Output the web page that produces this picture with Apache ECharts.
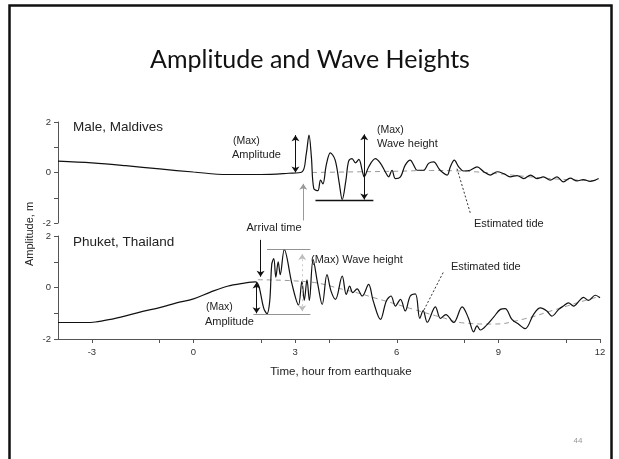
<!DOCTYPE html>
<html>
<head>
<meta charset="utf-8">
<title>Amplitude and Wave Heights</title>
<script src="https://cdn.jsdelivr.net/npm/echarts@6/dist/echarts.min.js"></script>
<style>
    html, body { margin: 0; padding: 0; background: #fff; }
    #main { width: 619px; height: 459px; }
</style>
</head>
<body>
<div id="main"></div>
<script>
    // x axis ticks (hours from earthquake)
    var hourLabels = [-3, 0, 3, 6, 9, 12];
    var hourTicks = [-3, -1, 0, 2, 3, 4, 6, 8, 9, 11, 12];

    // Male, Maldives : [hour, amplitude m]
    var maleWave = [
        [-4, 0.45], [-3, 0.38], [-2, 0.27], [-1, 0.14], [0, 0.02], [1, -0.08], [2, -0.08],
        [2.8, -0.03], [3.2, 0.02], [3.33, 0.75], [3.41, 1.48], [3.48, 0.62], [3.55, -0.63],
        [3.67, -0.72], [3.75, -0.3], [3.82, -0.45], [3.92, 0.3], [4.04, 0.78], [4.18, 0.5],
        [4.3, -0.4], [4.39, -1.07], [4.5, -0.3], [4.58, 0.45], [4.68, 0.55], [4.78, 0.38],
        [4.88, 0.52], [4.98, 0.08], [5.04, -0.17], [5.17, 0.22], [5.37, 0.55], [5.52, 0.36],
        [5.66, 0.03], [5.76, -0.17], [5.86, 0.09], [5.96, -0.24], [6.11, -0.17], [6.25, 0.29],
        [6.4, 0.49], [6.5, 0.29], [6.6, 0.09], [6.79, 0.09], [6.94, 0.36], [7.09, 0.42],
        [7.24, 0.16], [7.33, 0.03], [7.49, -0.1], [7.58, 0.22], [7.7, 0.49], [7.83, 0.22],
        [7.97, 0.06], [8.17, 0.09], [8.37, 0.22], [8.57, 0.03], [8.76, -0.1], [8.96, 0.03],
        [9.15, -0.04], [9.35, -0.17], [9.55, -0.12], [9.75, -0.24], [9.95, -0.1], [10.14, -0.24],
        [10.33, -0.17], [10.53, -0.3], [10.73, -0.17], [10.92, -0.37], [11.12, -0.22],
        [11.32, -0.33], [11.51, -0.28], [11.71, -0.35], [11.96, -0.24]
    ];
    var maleTide = [
        [3.5, 0.0], [4.5, 0.02], [6, 0.05], [7, 0.08], [8, 0.05], [9, -0.05], [10, -0.18],
        [11, -0.28], [12, -0.32]
    ];

    // Phuket, Thailand : [hour, amplitude m]
    var phuketWave = [
        [-4, -1.36], [-3.2, -1.36], [-2.9, -1.34], [-2.5, -1.25], [-2, -1.1], [-1.5, -0.93],
        [-1, -0.78], [-0.5, -0.6], [0, -0.44], [0.5, -0.18], [1, 0.05], [1.5, 0.17], [1.83, 0.22],
        [1.93, 0.05], [2.07, -0.79], [2.17, -1.02], [2.25, -0.53], [2.31, 0.9], [2.37, 1.12],
        [2.43, 0.4], [2.5, 1.0], [2.56, 0.5], [2.68, 1.47], [2.91, 0.12], [3.1, -0.68],
        [3.2, 0.24], [3.27, -0.5], [3.35, 0.3], [3.42, -0.5], [3.53, 1.08], [3.67, 0.12],
        [3.8, -0.66], [3.94, 0.5], [4.06, -0.14], [4.19, -0.46], [4.39, 0.44], [4.51, -0.27],
        [4.61, 0.05], [4.7, -0.2], [4.83, -0.05], [4.98, -0.33], [5.17, 0.12], [5.3, -0.5],
        [5.52, -1.24], [5.69, -0.53], [5.83, -0.33], [5.96, -0.72], [6.11, -0.46], [6.25, -0.91],
        [6.4, -0.33], [6.55, -0.25], [6.68, -1.2], [6.78, -0.9], [6.9, -1.35], [7.14, -0.75],
        [7.29, -1.2], [7.45, -1.05], [7.68, -1.36], [7.93, -0.75], [8.12, -1.2], [8.27, -1.72],
        [8.37, -1.49], [8.47, -1.65], [8.66, -1.45], [8.86, -1.15], [9.06, -0.85], [9.2, -0.82],
        [9.4, -1.24], [9.6, -1.43], [9.79, -1.6], [10.04, -1.04], [10.24, -0.79], [10.43, -0.91],
        [10.58, -1.11], [10.78, -0.85], [10.92, -0.72], [11.07, -0.6], [11.22, -0.72],
        [11.4, -0.5], [11.51, -0.38], [11.66, -0.5], [11.86, -0.3], [12, -0.4]
    ];
    var phuketTide = [
        [1.9, 0.3], [3.2, 0.24], [4.5, -0.1], [5.6, -0.5], [6.5, -0.85], [7.3, -1.15],
        [8, -1.38], [8.8, -1.42], [9.7, -1.24], [10.7, -0.85], [11.7, -0.45], [12, -0.35]
    ];

    var txt = '#222';
    var axisCol = '#555';
    var lblFont = 'Liberation Sans, Arial, sans-serif';

    function seg(a, b, sa, sb, style) {
        return [
            {coord: a, symbol: sa || 'none', lineStyle: style},
            {coord: b, symbol: sb || 'none'}
        ];
    }
    var solid = {color: '#111', width: 1, type: 'solid'};
    var thin = {color: '#777', width: 0.8, type: 'solid'};
    var dots = {color: '#333', width: 1, type: [2, 2]};

    function label(text, x, y, size, align) {
        return {
            type: 'text', x: x, y: y, silent: true,
            style: {
                text: text, fill: txt, font: size + 'px ' + lblFont,
                textAlign: align || 'left', textVerticalAlign: 'middle'
            }
        };
    }

    function xAxisFor(gridIndex, show) {
        return {
            type: 'value', gridIndex: gridIndex, min: -4, max: 12,
            show: show,
            axisLine: {show: true, onZero: false, lineStyle: {color: axisCol, width: 1}},
            axisTick: {show: true, length: 4, lineStyle: {color: axisCol}, customValues: hourTicks},
            axisLabel: {color: '#333', fontSize: 9.5, fontFamily: lblFont, margin: 8, customValues: hourLabels},
            splitLine: {show: false}
        };
    }
    function yAxisFor(gridIndex) {
        return {
            type: 'value', gridIndex: gridIndex, min: -2, max: 2, interval: 2,
            axisLine: {show: true, onZero: false, lineStyle: {color: axisCol, width: 1}},
            axisTick: {show: true, length: 4, lineStyle: {color: axisCol}},
            minorTick: {show: true, splitNumber: 2, length: 4, lineStyle: {color: axisCol}},
            axisLabel: {color: '#333', fontSize: 9.5, fontFamily: lblFont, margin: 7},
            splitLine: {show: false}
        };
    }

    var myChart = echarts.init(document.getElementById('main'));
    var option = {
        backgroundColor: '#fff',
        animation: false,
        grid: [
            {left: 58, width: 542, top: 122, height: 101},
            {left: 58, width: 542, top: 236, height: 103}
        ],
        xAxis: [xAxisFor(0, false), xAxisFor(1, true)],
        yAxis: [yAxisFor(0), yAxisFor(1)],
        series: [
            {
                name: 'Male, Maldives', type: 'line', xAxisIndex: 0, yAxisIndex: 0,
                data: maleWave, smooth: 0.35, showSymbol: false,
                lineStyle: {color: '#111', width: 1.2},
                markLine: {
                    silent: true, animation: false, symbol: ['none', 'none'], symbolSize: 6,
                    label: {show: false},
                    data: [
                        seg([3.01, 0], [3.01, 1.48], 'arrow', 'arrow', solid),
                        seg([5.04, -1.07], [5.04, 1.51], 'arrow', 'arrow', solid),
                        seg([3.6, -1.09], [5.31, -1.09], 'none', 'none', {color: '#111', width: 1.4, type: 'solid'}),
                        seg([3.24, -1.9], [3.24, -0.45], 'none', 'arrow', {color: '#999', width: 1, type: 'solid'}),
                        seg([7.78, 0.15], [8.17, -1.6], 'none', 'none', dots)
                    ]
                },
                z: 3
            },
            {
                name: 'Male tide', type: 'line', xAxisIndex: 0, yAxisIndex: 0,
                data: maleTide, smooth: true, showSymbol: false,
                lineStyle: {color: '#999', width: 1, type: [5, 4]}, z: 2
            },
            {
                name: 'Phuket, Thailand', type: 'line', xAxisIndex: 1, yAxisIndex: 1,
                data: phuketWave, smooth: 0.35, showSymbol: false,
                lineStyle: {color: '#111', width: 1.2},
                markLine: {
                    silent: true, animation: false, symbol: ['none', 'none'], symbolSize: 6,
                    label: {show: false},
                    data: [
                        seg([1.98, 1.85], [1.98, 0.42], 'none', 'arrow', solid),
                        seg([2.17, 1.47], [3.45, 1.47], 'none', 'none', thin),
                        seg([1.77, -1.04], [3.45, -1.04], 'none', 'none', thin),
                        seg([3.21, -0.92], [3.21, 1.3], 'arrow', 'arrow', {color: '#bbb', width: 0.8, type: [2, 3]}),
                        seg([1.86, -1.0], [1.86, 0.19], 'arrow', 'arrow', solid),
                        seg([7.37, 0.58], [6.78, -0.93], 'none', 'none', dots)
                    ]
                },
                z: 3
            },
            {
                name: 'Phuket tide', type: 'line', xAxisIndex: 1, yAxisIndex: 1,
                data: phuketTide, smooth: true, showSymbol: false,
                lineStyle: {color: '#999', width: 1, type: [5, 4]}, z: 2
            }
        ],
        graphic: [
            // slide frame
            {
                type: 'rect', silent: true,
                shape: {x: 9.5, y: 5.5, width: 602, height: 470},
                style: {fill: 'none', stroke: '#111', lineWidth: 2.5}
            },
            {
                type: 'text', x: 310, y: 60, silent: true,
                style: {
                    text: 'Amplitude and Wave Heights', fill: '#111',
                    font: '25px Lato, sans-serif', textAlign: 'center', textVerticalAlign: 'middle'
                }
            },
            label('Male, Maldives', 73, 127, 13.5),
            label('Phuket, Thailand', 73, 242, 13.5),
            label('(Max)', 233, 141, 10.5),
            label('Amplitude', 232, 155, 11),
            label('(Max)', 377, 130, 10.5),
            label('Wave height', 377, 144, 11),
            label('Arrival time', 274, 228, 11, 'center'),
            label('Estimated tide', 474, 224, 11),
            label('(Max) Wave height', 311, 260, 11),
            label('Estimated tide', 451, 267, 11),
            label('(Max)', 206, 307, 10.5),
            label('Amplitude', 205, 322, 11),
            label('Time, hour from earthquake', 341, 372, 11.5, 'center'),
            {
                type: 'text', x: 30, y: 234, rotation: Math.PI / 2, silent: true,
                style: {
                    text: 'Amplitude, m', fill: txt, font: '11px ' + lblFont,
                    textAlign: 'center', textVerticalAlign: 'middle'
                }
            },
            {
                type: 'text', x: 578, y: 441, silent: true,
                style: {text: '44', fill: '#999', font: '8px ' + lblFont, textAlign: 'center', textVerticalAlign: 'middle'}
            }
        ]
    };
    myChart.setOption(option);
</script>
</body>
</html>
